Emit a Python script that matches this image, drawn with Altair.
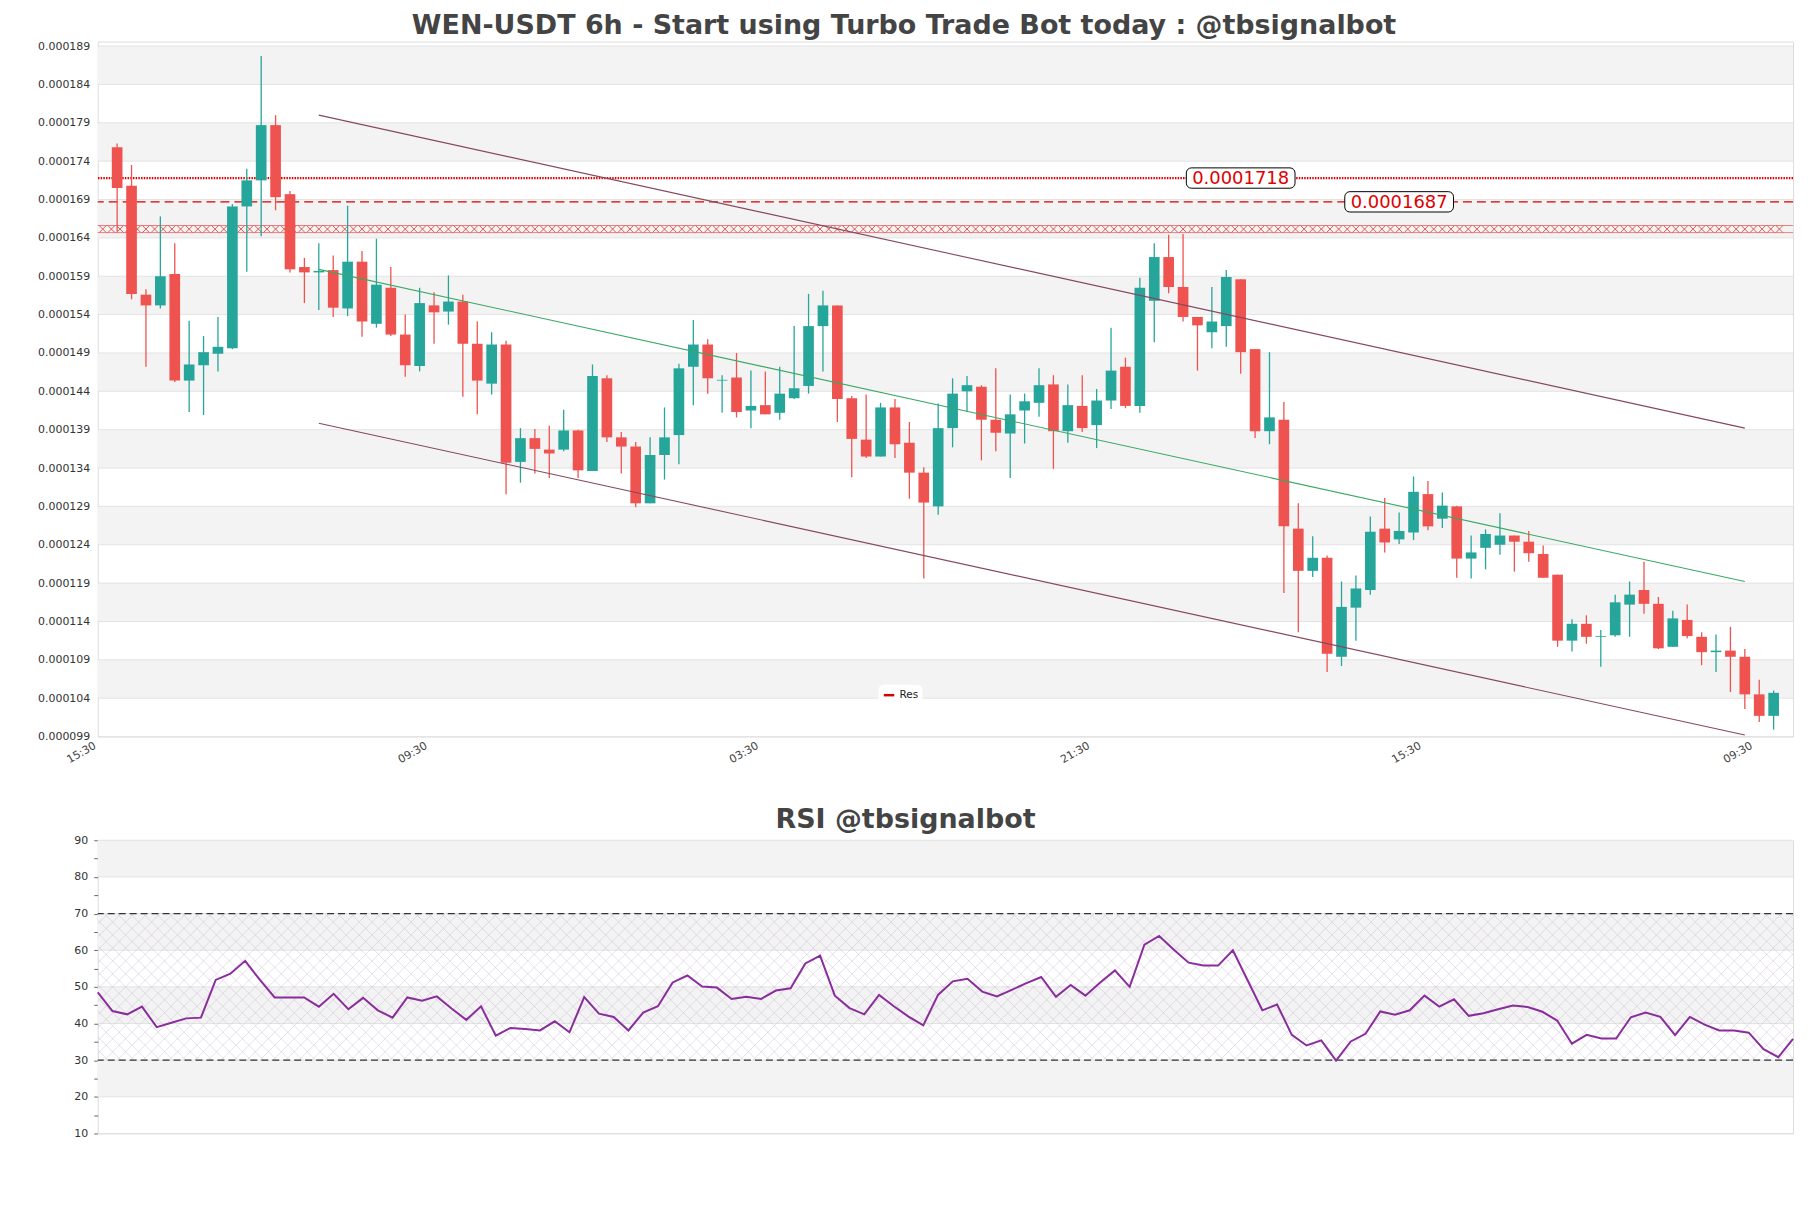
import altair as alt
import numpy as np
import pandas as pd

TITLE = "WEN-USDT 6h - Start using Turbo Trade Bot today : @tbsignalbot"
RSI_TITLE = "RSI @tbsignalbot"

# prices in units of 1e-6 USDT
OPEN = [175.8,170.8,156.6,155.2,159.3,145.4,147.4,148.9,149.6,168.1,
        171.5,178.7,169.7,160.2,159.5,159.8,154.8,160.9,152.8,157.5,
        151.4,147.3,155.2,154.4,155.7,150.2,145.0,150.1,134.8,137.9,
        136.4,136.4,138.9,133.6,145.7,138.0,136.8,129.4,135.7,138.3,
        147.2,150.1,145.4,145.8,141.5,142.2,141.2,143.1,144.7,152.5,
        155.2,143.1,137.7,135.5,141.9,137.3,133.4,129.0,139.2,144.0,
        144.6,140.3,138.5,141.5,142.5,144.9,138.8,142.1,139.6,142.8,
        147.2,142.1,155.8,161.5,157.6,153.7,151.7,152.5,158.6,149.5,
        138.8,140.3,126.1,120.6,122.3,109.4,115.8,118.1,126.1,124.7,
        125.6,130.6,127.4,129.0,122.2,123.6,124.0,125.2,124.4,122.8,
        120.1,111.5,113.7,112.0,112.2,116.2,118.1,116.3,110.7,114.2,
        112.0,110.0,110.2,109.4,104.5,101.7]
HIGH = [176.3,173.5,157.3,166.8,163.3,153.2,151.2,153.7,168.4,173.0,
        187.7,180.0,170.1,161.4,163.3,161.7,168.2,162.3,163.9,160.2,
        154.0,157.5,156.9,159.1,156.6,153.1,151.7,150.6,139.2,139.1,
        139.5,141.6,139.0,147.5,146.1,138.7,137.4,138.0,141.9,147.6,
        153.3,150.8,146.1,149.0,146.7,146.6,147.2,152.5,156.7,157.1,
        155.2,143.4,143.6,142.5,143.0,140.0,134.1,142.4,145.7,146.0,
        144.8,147.0,143.6,143.7,147.0,146.1,144.9,146.1,144.3,152.3,
        148.4,158.8,163.3,164.4,164.5,153.7,157.6,159.8,158.6,149.5,
        149.1,142.6,129.4,125.1,122.6,119.2,120.0,127.7,130.1,128.2,
        132.9,132.3,130.8,129.1,125.2,126.0,128.1,125.2,125.8,123.9,
        120.1,114.3,114.8,112.9,117.5,119.2,121.8,117.2,115.4,116.2,
        112.6,112.3,113.3,110.4,106.4,105.0]
LOW = [164.8,156.0,147.2,154.8,145.2,141.3,140.9,146.6,149.5,159.6,
       164.2,167.6,159.5,155.5,154.6,153.7,153.8,151.1,152.3,151.2,
       145.9,146.6,150.2,152.7,143.3,141.0,143.6,130.6,132.1,133.3,
       132.7,136.2,132.7,133.6,137.4,133.3,128.9,129.4,132.5,134.5,
       142.2,143.7,141.2,140.6,139.2,141.0,140.3,143.0,143.7,146.6,
       140.0,132.8,135.3,135.5,135.3,130.0,119.6,127.9,136.7,141.3,
       135.0,136.2,132.7,137.2,140.7,133.9,137.3,138.7,136.6,141.7,
       141.8,141.2,150.4,156.8,153.1,146.7,149.6,149.8,146.3,137.9,
       137.1,117.7,112.6,119.8,107.4,108.2,111.5,117.5,123.0,124.1,
       124.6,125.9,126.2,119.7,119.6,120.8,122.7,120.5,121.8,119.7,
       110.7,110.1,111.1,108.1,112.0,112.0,115.0,110.4,110.7,111.8,
       108.3,107.4,104.8,102.6,100.9,99.9]
CLOSE = [170.5,156.7,155.2,159.0,145.4,147.5,149.1,149.8,168.1,171.5,
         178.7,169.3,159.9,159.5,159.7,154.9,160.9,153.1,157.9,151.4,
         147.4,155.5,154.3,155.7,150.2,145.4,150.1,134.7,137.9,136.5,
         135.9,138.9,133.7,146.0,138.0,136.8,129.4,135.7,138.0,147.0,
         150.1,145.7,145.5,141.3,142.1,141.0,143.7,144.4,152.5,155.2,
         143.0,137.8,135.5,141.9,137.1,133.4,129.5,139.2,143.7,144.8,
         140.3,138.6,141.0,142.7,144.8,138.8,142.2,139.2,142.8,146.7,
         142.1,157.5,161.5,157.6,153.7,152.6,153.1,158.9,149.1,138.8,
         140.6,126.4,120.6,122.3,109.8,115.9,118.3,125.7,124.3,125.8,
         130.9,126.4,129.1,122.2,123.0,125.4,125.2,124.4,122.9,119.7,
         111.5,113.7,112.0,112.1,116.5,117.5,116.3,110.5,114.4,112.1,
         110.0,110.2,109.4,104.5,101.7,104.7]
RSI = [48.5,43.4,42.5,44.6,39.0,40.2,41.4,41.6,51.9,53.6,
       57.1,51.9,47.1,47.1,47.1,44.6,48.1,43.9,47.0,43.6,
       41.6,47.1,46.2,47.4,44.1,41.0,44.7,36.7,38.8,38.5,
       38.1,40.6,37.6,47.2,42.7,41.8,38.1,43.0,44.7,51.2,
       53.1,50.1,49.8,46.7,47.3,46.7,49.0,49.6,56.4,58.5,
       47.6,44.2,42.5,47.8,44.7,41.9,39.5,47.8,51.5,52.2,
       48.7,47.4,49.2,51.0,52.7,47.3,50.5,47.6,51.2,54.5,
       50.0,61.5,63.9,60.1,56.6,55.8,55.8,60.0,51.8,43.6,
       45.2,36.9,34.0,35.4,29.9,35.1,37.2,43.3,42.4,43.6,
       47.6,44.6,46.6,42.1,42.8,43.9,44.9,44.5,43.2,40.8,
       34.5,36.9,35.9,35.9,41.7,43.0,41.8,36.8,41.8,39.7,
       38.1,38.1,37.5,33.0,30.8,35.8]

X_TICK_IDX = [-1, 22, 45, 68, 91, 114]
X_TICK_LABELS = ["15:30", "09:30", "03:30", "21:30", "15:30", "09:30"]
Y_TICKS = [99, 104, 109, 114, 119, 124, 129, 134, 139, 144, 149, 154, 159, 164, 169, 174, 179, 184, 189]
TOP_BAND_LO = [184, 174, 164, 154, 144, 134, 124, 114, 104]
TOP_BAND_HI = [189, 179, 169, 159, 149, 139, 129, 119, 109]

RES_DOTTED = [171.8]
RES_DASHED = [168.7]
RES_ZONE = [165.15]
ANN_LEVEL = [171.8, 168.7]
ANN_IDX = [78.0, 89.0]
ANN_TEXT = ["0.0001718", "0.0001687"]

CH_IDX = [14, 113]
CH_UPPER = [180.0, 139.2]
CH_MID = [159.9, 119.2]
CH_LOWER = [139.85, 99.2]

RSI_TICKS = [10, 15, 20, 25, 30, 35, 40, 45, 50, 55, 60, 65, 70, 75, 80, 85, 90]
RSI_GRID = [10, 20, 30, 40, 50, 60, 70, 80, 90]
RSI_BAND_LO = [80, 60, 40, 20]
RSI_BAND_HI = [90, 70, 50, 30]
RSI_LEVELS = [70, 30]

UP = "#26a69a"
DOWN = "#ef5350"
RED = "#e00000"
FONT = "DejaVu Sans"
W = 1700
H_TOP = 697
H_RSI = 294

N = len(OPEN)
df = pd.DataFrame({"idx": list(range(N)), "open": OPEN, "high": HIGH, "low": LOW, "close": CLOSE})
df["dir"] = np.where(df["close"] >= df["open"], "up", "down")

xs_top = alt.Scale(domain=[-1, 116], nice=False, zero=False)
ys_top = alt.Scale(domain=[99, 189.6], nice=False, zero=False)

label_expr = ("[" + ",".join(f"'{s}'" for s in X_TICK_LABELS) + "][indexof(["
              + ",".join(str(v) for v in X_TICK_IDX) + "], datum.value)]")

XA = alt.Axis(values=X_TICK_IDX, labelExpr=label_expr, labelAngle=330, labelAlign="right",
              labelBaseline="top", title=None, grid=False, ticks=False, domain=False,
              labelFont=FONT, labelFontSize=11, labelColor="#444", labelPadding=3, labelOffset=-11)
YA = alt.Axis(values=Y_TICKS, labelExpr="format(datum.value/1e6, '.6f')", title=None,
              grid=False, ticks=False, domain=False, labelFont=FONT, labelFontSize=11,
              labelColor="#333", labelPadding=8, minExtent=84, maxExtent=84)


def X(field):
    return alt.X(field, scale=xs_top, axis=XA)


def Y(field):
    return alt.Y(field, scale=ys_top, axis=YA)


bands_df = pd.DataFrame({"lo": TOP_BAND_LO, "hi": TOP_BAND_HI})
bands = alt.Chart(bands_df).mark_rect(color="#f3f3f3").encode(y=Y("lo:Q"), y2="hi:Q")

grid = alt.Chart(pd.DataFrame({"v": Y_TICKS})).mark_rule(color="#e3e3e3", strokeWidth=1).encode(y=Y("v:Q"))

# hatched resistance zone
zone_df = pd.DataFrame({"v": RES_ZONE})
zone_top = alt.Chart(zone_df).transform_calculate(a="datum.v + 0.46").mark_rule(
    color=RED, strokeWidth=0.6, opacity=0.8).encode(y=Y("a:Q"))
zone_bot = alt.Chart(zone_df).transform_calculate(b="datum.v - 0.46").mark_rule(
    color=RED, strokeWidth=0.6, opacity=0.8).encode(y=Y("b:Q"))
xmarks_df = pd.DataFrame({"i": np.arange(-1.0, 116.0, 0.6)})
xmarks_df["v"] = RES_ZONE[0]
xmarks = alt.Chart(xmarks_df).mark_point(shape="M -1 -1 L 1 1 M -1 1 L 1 -1", size=45, filled=False,
                                          color=RED, strokeWidth=0.7, opacity=0.9, clip=True).encode(
    x=X("i:Q"), y=Y("v:Q"))

dotted = alt.Chart(pd.DataFrame({"v": RES_DOTTED})).mark_rule(
    color=RED, strokeWidth=2.2, strokeDash=[1.5, 1.2]).encode(y=Y("v:Q"))
dashed = alt.Chart(pd.DataFrame({"v": RES_DASHED, "name": ["Res"]})).mark_rule(
    strokeWidth=1.3, strokeDash=[9, 5]).encode(
    y=Y("v:Q"),
    color=alt.Color("name:N", scale=alt.Scale(domain=["Res"], range=["#d50000"]),
                    legend=alt.Legend(orient="none", legendX=783, legendY=645, title=None,
                                      symbolType="stroke", symbolStrokeWidth=2.5, symbolSize=110,
                                      labelFont=FONT, labelFontSize=10.5, labelColor="#222",
                                      fillColor="white", padding=4, cornerRadius=5)))

cdir = alt.Color("dir:N", scale=alt.Scale(domain=["up", "down"], range=[UP, DOWN]), legend=None)
wicks = alt.Chart(df).mark_rule(strokeWidth=1.3).encode(
    x=X("idx:Q"), y=Y("low:Q"), y2="high:Q", color=cdir)
bodies = alt.Chart(df).mark_bar(width=10.7).encode(
    x=X("idx:Q"), y=Y("open:Q"), y2="close:Q", color=cdir)

ch_df = pd.DataFrame({
    "idx": CH_IDX * 3,
    "v": CH_UPPER + CH_MID + CH_LOWER,
    "line": ["upper"] * 2 + ["mid"] * 2 + ["lower"] * 2,
})
channel = alt.Chart(ch_df).mark_line(strokeWidth=1.1).encode(
    x=X("idx:Q"), y=Y("v:Q"), detail="line:N",
    color=alt.Color("line:N", scale=alt.Scale(domain=["upper", "mid", "lower"],
                                              range=["#86485e", "#3aa864", "#86485e"]), legend=None))

ann_df = pd.DataFrame({"i": ANN_IDX, "v": ANN_LEVEL, "t": ANN_TEXT})
BOX = ("M -0.907 -0.187 L 0.907 -0.187 A 0.093 0.093 0 0 1 1 -0.094 L 1 0.094 "
       "A 0.093 0.093 0 0 1 0.907 0.187 L -0.907 0.187 A 0.093 0.093 0 0 1 -1 0.094 "
       "L -1 -0.094 A 0.093 0.093 0 0 1 -0.907 -0.187 Z")
ann_box = alt.Chart(ann_df).mark_point(shape=BOX, size=109 * 109, filled=True, fill="white",
                                       stroke="black", strokeWidth=1, opacity=1).encode(
    x=X("i:Q"), y=Y("v:Q"))
ann_txt = alt.Chart(ann_df).mark_text(color=RED, font=FONT, fontSize=18, baseline="middle", dy=1).encode(
    x=X("i:Q"), y=Y("v:Q"), text="t:N")

top = alt.layer(bands, grid, zone_top, zone_bot, xmarks, dotted, dashed, wicks, bodies, channel,
                ann_box, ann_txt).resolve_scale(color="independent").properties(
    width=W, height=H_TOP,
    title=alt.TitleParams(TITLE, fontSize=27, font=FONT, fontWeight="bold", color="#444",
                          anchor="middle", frame="bounds", offset=0))

# ---------------- RSI ----------------
xs_rsi = alt.Scale(domain=[0, N - 1], nice=False, zero=False)
ys_rsi = alt.Scale(domain=[10, 90], nice=False, zero=False)
rsi_df = pd.DataFrame({"idx": list(range(N)), "rsi": RSI})

RYA = alt.Axis(values=RSI_TICKS, labelExpr="datum.value % 10 == 0 ? datum.value : ''",
               title=None, grid=False, ticks=True, tickSize=4, tickColor="#666",
               domain=False, labelFont=FONT, labelFontSize=11, labelColor="#333",
               labelPadding=6, minExtent=84, maxExtent=84)
RXA = alt.Axis(labels=False, ticks=False, domain=False, grid=False, title=None)


def RX(field):
    return alt.X(field, scale=xs_rsi, axis=RXA)


def RY(field):
    return alt.Y(field, scale=ys_rsi, axis=RYA)


rbands = alt.Chart(pd.DataFrame({"lo": RSI_BAND_LO, "hi": RSI_BAND_HI})).mark_rect(color="#f3f3f3").encode(
    y=RY("lo:Q"), y2="hi:Q")
rgrid = alt.Chart(pd.DataFrame({"v": RSI_GRID})).mark_rule(color="#e3e3e3").encode(y=RY("v:Q"))

span = (H_RSI * 40 / 80) / (W / (N - 1))
starts = np.arange(-11.0, N + 1.0, 0.88)
hatch_df = pd.DataFrame({
    "x1": np.concatenate([starts, starts]),
    "x2": np.concatenate([starts + span, starts + span]),
    "y1": [30] * len(starts) + [70] * len(starts),
    "y2": [70] * len(starts) + [30] * len(starts),
})
hatch = alt.Chart(hatch_df).mark_rule(color="#c7b9d2", strokeWidth=0.6, opacity=0.75, clip=True).encode(
    x=RX("x1:Q"), x2="x2:Q", y=RY("y1:Q"), y2="y2:Q")

rlevels = alt.Chart(pd.DataFrame({"v": RSI_LEVELS})).mark_rule(
    color="#333", strokeWidth=1.2, strokeDash=[7, 4]).encode(y=RY("v:Q"))

rline = alt.Chart(rsi_df).mark_line(color="#8a2d9c", strokeWidth=2).encode(x=RX("idx:Q"), y=RY("rsi:Q"))

rsi = alt.layer(rbands, rgrid, hatch, rlevels, rline).properties(
    width=W, height=H_RSI,
    title=alt.TitleParams(RSI_TITLE, fontSize=27, font=FONT, fontWeight="bold", color="#444",
                          anchor="middle", frame="bounds", offset=0))

chart = alt.vconcat(top, rsi, spacing=40).configure_view(stroke="#dcdcdc", strokeWidth=1).properties(
    padding={"left": 5, "top": 2, "right": 5, "bottom": 5})

chart.save("out.html", embed_options={"renderer": "svg", "actions": False})
